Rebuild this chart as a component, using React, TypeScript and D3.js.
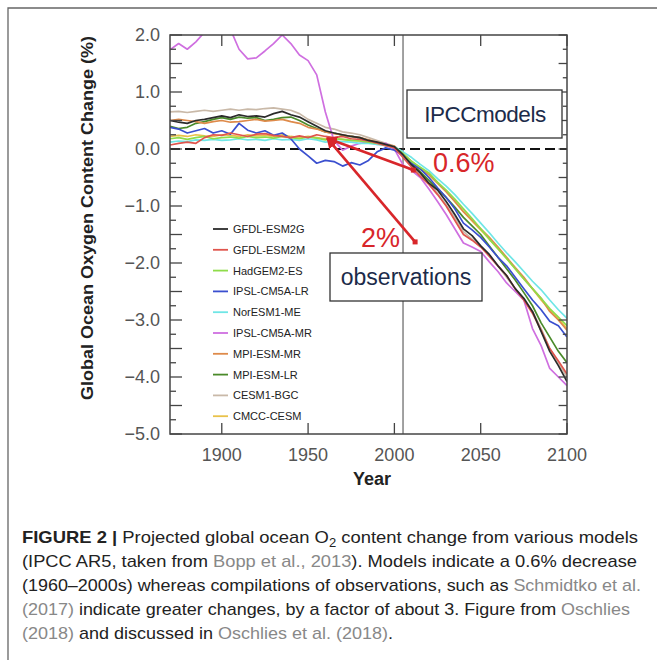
import React from 'react';
import * as d3 from 'd3';

// 5-year sampling
const years = [
  1870, 1875, 1880, 1885, 1890, 1895, 1900, 1905, 1910, 1915, 1920, 1925, 1930, 1935, 1940, 1945,
  1950, 1955, 1960, 1965, 1970, 1975, 1980, 1985, 1990, 1995, 2000, 2005, 2010, 2015, 2020, 2025,
  2030, 2035, 2040, 2045, 2050, 2055, 2060, 2065, 2070, 2075, 2080, 2085, 2090, 2095, 2100,
];

const gfdlEsm2g = [
  0.50, 0.47, 0.45, 0.50, 0.52, 0.55, 0.58, 0.55, 0.60, 0.57, 0.58, 0.56, 0.62, 0.66, 0.60, 0.56,
  0.48, 0.40, 0.32, 0.28, 0.25, 0.22, 0.20, 0.15, 0.12, 0.08, 0.04, -0.10, -0.28, -0.42, -0.60, -0.72,
  -0.92, -1.15, -1.40, -1.52, -1.70, -1.85, -2.05, -2.22, -2.45, -2.62, -2.85, -3.20, -3.55, -3.80, -4.08,
];
const gfdlEsm2m = [
  0.07, 0.10, 0.12, 0.10, 0.20, 0.25, 0.24, 0.28, 0.25, 0.22, 0.26, 0.27, 0.24, 0.22, 0.20, 0.23,
  0.20, 0.25, 0.22, 0.20, 0.22, 0.18, 0.17, 0.14, 0.10, 0.06, 0.02, -0.15, -0.32, -0.48, -0.62, -0.80,
  -1.00, -1.25, -1.50, -1.60, -1.72, -1.88, -2.05, -2.22, -2.45, -2.65, -2.88, -3.18, -3.50, -3.72, -3.95,
];
const hadgem2Es = [
  0.18, 0.20, 0.17, 0.20, 0.22, 0.18, 0.20, 0.21, 0.19, 0.22, 0.20, 0.21, 0.19, 0.22, 0.20, 0.18,
  0.21, 0.19, 0.16, 0.18, 0.17, 0.15, 0.14, 0.12, 0.10, 0.07, 0.03, -0.08, -0.22, -0.32, -0.42, -0.58,
  -0.72, -0.88, -1.05, -1.22, -1.40, -1.58, -1.75, -1.92, -2.10, -2.28, -2.45, -2.62, -2.80, -2.95, -3.10,
];
const ipslCm5aLr = [
  0.38, 0.35, 0.28, 0.32, 0.36, 0.28, 0.32, 0.26, 0.45, 0.33, 0.28, 0.32, 0.24, 0.28, 0.18, 0.00,
  -0.12, -0.25, -0.20, -0.22, -0.30, -0.24, -0.28, -0.20, -0.05, 0.02, -0.02, -0.10, -0.25, -0.35, -0.50, -0.68,
  -0.85, -1.05, -1.30, -1.42, -1.55, -1.72, -1.90, -2.05, -2.25, -2.45, -2.65, -2.82, -3.02, -3.10, -3.30,
];
const noresm1Me = [
  0.12, 0.14, 0.13, 0.16, 0.15, 0.17, 0.15, 0.16, 0.18, 0.16, 0.17, 0.15, 0.18, 0.16, 0.17, 0.15,
  0.18, 0.16, 0.12, 0.14, 0.13, 0.12, 0.10, 0.10, 0.08, 0.06, 0.04, -0.05, -0.15, -0.27, -0.38, -0.52,
  -0.65, -0.80, -0.97, -1.13, -1.30, -1.47, -1.65, -1.82, -1.98, -2.15, -2.32, -2.47, -2.65, -2.82, -2.97,
];
const ipslCm5aMr = [
  1.74, 1.85, 1.75, 1.88, 2.05, 2.30, 2.40, 2.10, 1.75, 1.58, 1.60, 1.72, 1.85, 2.00, 1.85, 1.65,
  1.55, 1.30, 0.65, 0.15, -0.02, 0.05, 0.10, 0.12, 0.08, 0.10, 0.00, -0.28, -0.38, -0.50, -0.70, -0.92,
  -1.15, -1.40, -1.65, -1.72, -1.80, -1.98, -2.15, -2.35, -2.50, -2.65, -3.15, -3.45, -3.85, -4.00, -4.15,
];
const mpiEsmMr = [
  0.50, 0.52, 0.50, 0.48, 0.45, 0.48, 0.50, 0.47, 0.48, 0.50, 0.52, 0.49, 0.50, 0.52, 0.48, 0.45,
  0.38, 0.35, 0.30, 0.27, 0.25, 0.22, 0.20, 0.16, 0.12, 0.08, 0.05, -0.08, -0.22, -0.35, -0.45, -0.60,
  -0.75, -0.92, -1.10, -1.25, -1.40, -1.55, -1.72, -1.90, -2.08, -2.25, -2.45, -2.62, -2.85, -3.00, -3.18,
];
const mpiEsmLr = [
  0.40, 0.36, 0.38, 0.45, 0.48, 0.52, 0.55, 0.52, 0.56, 0.54, 0.55, 0.50, 0.52, 0.55, 0.56, 0.50,
  0.42, 0.36, 0.30, 0.28, 0.24, 0.22, 0.20, 0.15, 0.11, 0.08, 0.04, -0.10, -0.25, -0.40, -0.55, -0.70,
  -0.85, -1.02, -1.20, -1.35, -1.50, -1.70, -1.90, -2.10, -2.30, -2.52, -2.75, -3.05, -3.30, -3.55, -3.75,
];
const cesm1Bgc = [
  0.65, 0.66, 0.64, 0.66, 0.68, 0.66, 0.68, 0.70, 0.68, 0.70, 0.69, 0.71, 0.72, 0.70, 0.68, 0.62,
  0.52, 0.45, 0.38, 0.35, 0.30, 0.28, 0.25, 0.20, 0.15, 0.10, 0.05, -0.12, -0.30, -0.45, -0.60, -0.78,
  -0.98, -1.20, -1.45, -1.58, -1.70, -1.88, -2.05, -2.25, -2.45, -2.65, -2.85, -3.15, -3.50, -3.75, -4.00,
];
const cmccCesm = [
  0.22, 0.24, 0.22, 0.25, 0.23, 0.22, 0.25, 0.24, 0.22, 0.25, 0.23, 0.24, 0.22, 0.25, 0.22, 0.20,
  0.22, 0.20, 0.18, 0.18, 0.17, 0.15, 0.14, 0.12, 0.09, 0.06, 0.03, -0.08, -0.22, -0.34, -0.45, -0.60,
  -0.75, -0.92, -1.10, -1.26, -1.42, -1.58, -1.75, -1.92, -2.10, -2.28, -2.45, -2.65, -2.82, -2.98, -3.15,
];

const modelNames = [
  'GFDL-ESM2G', 'GFDL-ESM2M', 'HadGEM2-ES', 'IPSL-CM5A-LR', 'NorESM1-ME',
  'IPSL-CM5A-MR', 'MPI-ESM-MR', 'MPI-ESM-LR', 'CESM1-BGC', 'CMCC-CESM',
];
const modelValues = [
  gfdlEsm2g, gfdlEsm2m, hadgem2Es, ipslCm5aLr, noresm1Me,
  ipslCm5aMr, mpiEsmMr, mpiEsmLr, cesm1Bgc, cmccCesm,
];
const modelColors = [
  '#2b2b2b', '#e0554d', '#8fdc4a', '#3a4fcf', '#6fe6e6',
  '#cf6fe0', '#de8a4a', '#4a8a2a', '#c9b9a8', '#e9c24a',
];

const xTicks = [1900, 1950, 2000, 2050, 2100];
const yLabels = [2, 1, 0, -1, -2, -3, -4, -5];

// annotation points (year, %)
const arrowTip = [1961, 0.19];
const arrowSmall = [2011, -0.37];
const arrowLarge = [2012, -1.63];
const splitYear = 2005;

const x = d3.scaleLinear().domain([1870, 2100]).range([170, 567]);
const y = d3.scaleLinear().domain([-5, 2]).range([434, 35]);

const fmt = (v: number) => (v < 0 ? '\u2212' + Math.abs(v).toFixed(1) : v.toFixed(1));

const App: React.FC = () => {
  const line = d3
    .line<number>()
    .x((_, i) => x(years[i]))
    .y((d) => y(d));

  const yMinor = d3.range(-5, 2.001, 0.25);
  const [x0, x1] = x.range();
  const [yb, yt] = y.range();
  const red = '#d8262a';
  const cap = { font: 'Liberation Sans, Arial, sans-serif', size: 17 };

  return (
    <svg
      width={657}
      height={660}
      style={{ position: 'absolute', left: 0, top: 0, background: '#fff' }}
      fontFamily="Liberation Sans, Arial, sans-serif"
    >
      <defs>
        <clipPath id="plot">
          <rect x={x0} y={yt} width={x1 - x0} height={yb - yt} />
        </clipPath>
        <marker
          id="head"
          viewBox="0 0 10 10"
          refX={9}
          refY={5}
          markerWidth={11}
          markerHeight={11}
          markerUnits="userSpaceOnUse"
          orient="auto"
        >
          <path d="M0,0 L10,5 L0,10 z" fill={red} />
        </marker>
      </defs>

      {/* outer frame */}
      <path d="M8,660 L8,8 L657,8" fill="none" stroke="#666" strokeWidth={1.3} />

      {/* zero line + split line */}
      <line x1={x0} x2={x1} y1={y(0)} y2={y(0)} stroke="#111" strokeWidth={1.8} strokeDasharray="10,5" />
      <line x1={x(splitYear)} x2={x(splitYear)} y1={yt} y2={yb} stroke="#444" strokeWidth={1} />

      {/* model lines */}
      <g clipPath="url(#plot)">
        {modelValues
          .map((vals, i) => ({ vals, i }))
          .reverse()
          .map(({ vals, i }) => (
            <path key={i} d={line(vals) || ''} fill="none" stroke={modelColors[i]} strokeWidth={1.7} strokeLinejoin="round" />
          ))}
      </g>

      {/* axes frame and ticks */}
      <rect x={x0} y={yt} width={x1 - x0} height={yb - yt} fill="none" stroke="#444" strokeWidth={1.5} />
      {yMinor.map((v) => {
        const long = Math.abs(v * 2 - Math.round(v * 2)) < 1e-6;
        const len = long ? 12 : 6;
        return (
          <g key={v} stroke="#444" strokeWidth={1.3}>
            <line x1={x0} x2={x0 + len} y1={y(v)} y2={y(v)} />
            <line x1={x1} x2={x1 - len * 0.7} y1={y(v)} y2={y(v)} />
          </g>
        );
      })}
      {xTicks.map((t) => (
        <g key={t} stroke="#444" strokeWidth={1.3}>
          <line x1={x(t)} x2={x(t)} y1={yb} y2={yb - 11} />
          <line x1={x(t)} x2={x(t)} y1={yt} y2={yt + 11} />
        </g>
      ))}
      {yLabels.map((v) => (
        <text key={v} x={160} y={y(v)} dy="0.36em" textAnchor="end" fontSize={18} fill="#555">
          {fmt(v)}
        </text>
      ))}
      {xTicks.map((t) => (
        <text key={t} x={x(t)} y={461} textAnchor="middle" fontSize={18} fill="#555">
          {t}
        </text>
      ))}
      <text x={372} y={485} textAnchor="middle" fontSize={18} fontWeight="bold" fill="#222">
        Year
      </text>
      <text
        transform={`translate(93,218) rotate(-90)`}
        textAnchor="middle"
        fontSize={16}
        fontWeight="bold"
        fill="#222"
        textLength={364}
        lengthAdjust="spacingAndGlyphs"
      >
        Global Ocean Oxygen Content Change (%)
      </text>

      {/* legend */}
      {modelNames.map((n, i) => (
        <g key={n} transform={`translate(213,${229 + i * 20.8})`}>
          <line x1={0} x2={15} y1={0} y2={0} stroke={modelColors[i]} strokeWidth={1.8} />
          <text x={20} y={0} dy="0.36em" fontSize={11} fill="#222">
            {n}
          </text>
        </g>
      ))}

      {/* boxes */}
      <rect x={407} y={90} width={155} height={48} fill="#fff" stroke="#333" strokeWidth={1.3} />
      <text x={485} y={122} textAnchor="middle" fontSize={22.5} fill="#1c2b4a" letterSpacing={-0.5}>
        IPCCmodels
      </text>
      <rect x={330} y={253} width={152} height={48} fill="#fff" stroke="#333" strokeWidth={1.3} />
      <text x={406} y={285} textAnchor="middle" fontSize={23} fill="#1c2b4a">
        observations
      </text>

      {/* arrows */}
      {[arrowSmall, arrowLarge].map((p, i) => (
        <g key={i}>
          <line
            x1={x(p[0])}
            y1={y(p[1])}
            x2={x(arrowTip[0])}
            y2={y(arrowTip[1])}
            stroke={red}
            strokeWidth={2.6}
            markerEnd="url(#head)"
          />
          <rect x={x(p[0]) - 2.5} y={y(p[1]) - 2.5} width={5} height={5} fill={red} />
        </g>
      ))}
      <text x={433} y={172} fontSize={27} fill={red}>
        0.6%
      </text>
      <text x={400} y={247} textAnchor="end" fontSize={27} fill={red}>
        2%
      </text>

      {/* caption */}
      <g fontFamily={cap.font} fontSize={cap.size} fill="#222">
        <text x={22} y={543} textLength={616} lengthAdjust="spacingAndGlyphs">
          <tspan fontWeight="bold">FIGURE 2 | </tspan>
          <tspan>Projected global ocean O</tspan>
          <tspan fontSize={12} dy={4}>2</tspan>
          <tspan dy={-4}> content change from various models</tspan>
        </text>
        <text x={22} y={567} textLength={615} lengthAdjust="spacingAndGlyphs">
          <tspan>(IPCC AR5, taken from </tspan>
          <tspan fill="#888">Bopp et al., 2013</tspan>
          <tspan>). Models indicate a 0.6% decrease</tspan>
        </text>
        <text x={22} y={591} textLength={619} lengthAdjust="spacingAndGlyphs">
          <tspan>(1960–2000s) whereas compilations of observations, such as </tspan>
          <tspan fill="#888">Schmidtko et al.</tspan>
        </text>
        <text x={22} y={615} textLength={608} lengthAdjust="spacingAndGlyphs">
          <tspan fill="#888">(2017)</tspan>
          <tspan> indicate greater changes, by a factor of about 3. Figure from </tspan>
          <tspan fill="#888">Oschlies</tspan>
        </text>
        <text x={22} y={639} textLength={371} lengthAdjust="spacingAndGlyphs">
          <tspan fill="#888">(2018)</tspan>
          <tspan> and discussed in </tspan>
          <tspan fill="#888">Oschlies et al. (2018)</tspan>
          <tspan>.</tspan>
        </text>
      </g>
    </svg>
  );
};

export default App;
